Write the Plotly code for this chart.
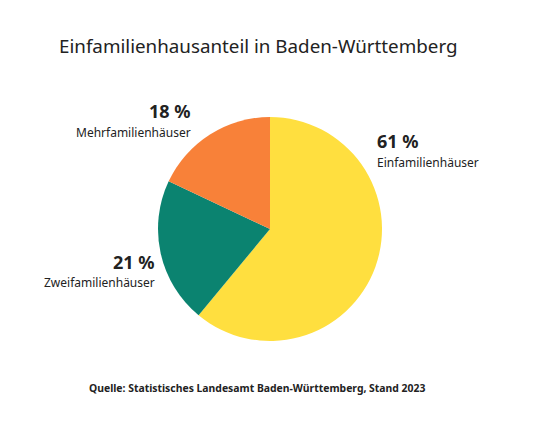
import plotly.graph_objects as go

labels = ["Einfamilienhäuser", "Zweifamilienhäuser", "Mehrfamilienhäuser"]
values = [61, 21, 18]
colors = ["#FFDF3F", "#0B8370", "#F88139"]

W, H = 552, 427
OX, OY = 8, 7  # page offset of the plot div


def px(x):
    return (x - OX) / W


def py(y):
    return 1 - (y - OY) / H


fig = go.Figure(go.Pie(
    labels=labels, values=values, sort=False, direction="clockwise",
    rotation=0, marker=dict(colors=colors, line=dict(width=0)),
    textinfo="none", hoverinfo="label+percent",
    domain=dict(x=[px(158), px(382)], y=[py(340), py(116)]),
))

# label positions (pixel from top-left)
label_pos = {
    "Einfamilienhäuser": (375, 140, 162, "left"),
    "Zweifamilienhäuser": (157, 261, 281, "right"),
    "Mehrfamilienhäuser": (193, 110, 131, "right"),
}
for lab, val in zip(labels, values):
    x, y1, y2, al = label_pos[lab]
    for text, y, size in [(f"<b>{val} %</b>", y1, 18), (lab, y2, 12)]:
        fig.add_annotation(x=px(x), y=py(y), xref="paper", yref="paper",
                           text=text, showarrow=False, xanchor=al, yanchor="middle",
                           font=dict(size=size, color="#222"))

fig.add_annotation(x=px(57), y=py(45), xref="paper", yref="paper",
                   text="Einfamilienhausanteil in Baden-Württemberg", showarrow=False,
                   xanchor="left", yanchor="middle", font=dict(size=18.8, color="#222"))
fig.add_annotation(x=px(87), y=py(387), xref="paper", yref="paper",
                   text="<b>Quelle: Statistisches Landesamt Baden-Württemberg, Stand 2023</b>",
                   showarrow=False, xanchor="left", yanchor="middle",
                   font=dict(size=10.4, color="#222"))

fig.update_layout(width=W, height=H, margin=dict(l=0, r=0, t=0, b=0),
                  showlegend=False, paper_bgcolor="white",
                  font=dict(family="Noto Sans"))

fig.write_html("out.html")
